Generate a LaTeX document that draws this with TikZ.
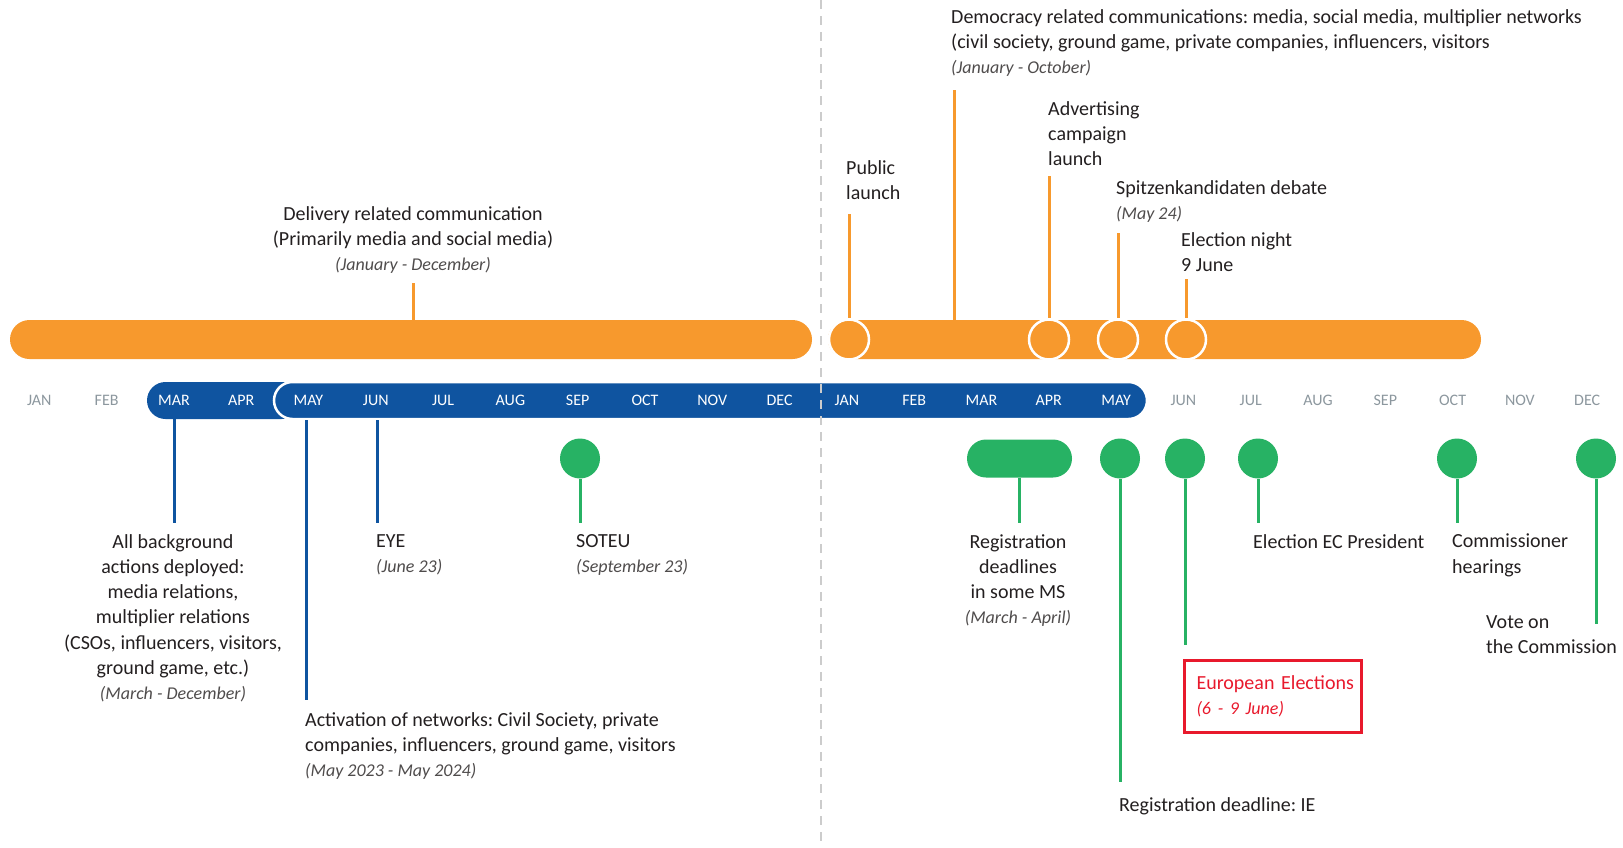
\documentclass[tikz,border=0pt]{standalone}
\usepackage{fontspec}
\setmainfont{Carlito}
\usetikzlibrary{positioning}
\frenchspacing

\definecolor{evorange}{HTML}{F7992D}
\definecolor{evblue}{HTML}{0F54A0}
\definecolor{evgreen}{HTML}{27B264}
\definecolor{evgray}{HTML}{8C979E}
\definecolor{evred}{HTML}{E8192C}
\definecolor{evtext}{HTML}{231F20}

\newcommand{\daterange}[1]{{\fontsize{18}{25.3}\selectfont\itshape\color{evtext!80} #1}}

\tikzset{
  txt/.style={inner sep=0pt, text=evtext, font=\fontsize{20}{25.3}\selectfont},
  mon/.style={inner sep=0pt, font=\fontsize{16}{16}\selectfont},
  obar/.style={fill=evorange, rounded corners=19.5pt, minimum height=39pt, inner sep=0pt},
  bbar/.style={fill=evblue, rounded corners=18.5pt, minimum height=37pt, inner sep=0pt},
  oline/.style={evorange, line width=3pt},
  bline/.style={evblue, line width=3pt},
  gline/.style={evgreen, line width=3pt},
  odot/.style={circle, fill=evorange, draw=white, line width=2.5pt, minimum size=40pt, inner sep=0pt},
  gdot/.style={circle, fill=evgreen, minimum size=40pt, inner sep=0pt},
}

\begin{document}
\begin{tikzpicture}[x=1pt,y=-1pt]
  \useasboundingbox (0,0) rectangle (1623,847);

  % orange bars
  \node[obar, minimum width=802pt] (obar1) at (411,339.5) {};
  \node[obar, minimum width=653pt] (obar2) at (1154.5,339.5) {};
  \node[odot] (pub) at (849,339.5) {};
  \node[odot] (adv) at (1049,339.5) {};
  \node[odot] (spk) at (1118,339.5) {};
  \node[odot] (eln) at (1186,339.5) {};

  % blue bars and months
  \node[bbar, minimum width=153pt] (bbar1) at (223.5,400.5) {};
  \node[bbar, minimum width=873pt, draw=white, line width=2.5pt] (bbar2) at (710.5,400.5) {};
  \foreach \m [count=\i from 0] in {JAN,FEB,MAR,APR,MAY,JUN,JUL,AUG,SEP,OCT,NOV,DEC,
                                    JAN,FEB,MAR,APR,MAY,JUN,JUL,AUG,SEP,OCT,NOV,DEC} {
    \ifnum\i<2 \def\mc{evgray}\else\ifnum\i>16 \def\mc{evgray}\else\def\mc{white}\fi\fi
    \node[mon, text=\mc] (m\i) at ({39.3+67.3*\i},400) {\m};
  }

  % year separator
  \draw[black!20, line width=2.5pt, dash pattern=on 9pt off 7pt] (821,0) -- (821,847);

  % upper labels
  \node[txt, align=center, anchor=north] (delivery) at (413,206)
    {Delivery related communication\\(Primarily media and social media)\\\daterange{(January - December)}};
  \node[txt, align=left, anchor=north west] (democracy) at (951,9)
    {Democracy related communications: media, social media, multiplier networks\\(civil society, ground game, private companies, influencers, visitors\\\daterange{(January - October)}};
  \node[txt, align=left, anchor=north west] (publab) at (846,160) {Public\\launch};
  \node[txt, align=left, anchor=north west] (advlab) at (1048,101) {Advertising\\campaign\\launch};
  \node[txt, align=left, anchor=north west] (spklab) at (1116,180) {Spitzenkandidaten debate\\\daterange{(May 24)}};
  \node[txt, align=left, anchor=north west] (elnlab) at (1181,232) {Election night\\9 June};

  \coordinate (deltop) at (413,283);
  \coordinate (demtop) at (954,90);
  \coordinate (pubtop) at (849,214);
  \coordinate (advtop) at (1049,176);
  \coordinate (spktop) at (1118,233);
  \coordinate (elntop) at (1186,279);
  \draw[oline] (deltop) -- (deltop |- obar1.north);
  \draw[oline] (demtop) -- (demtop |- obar2.north);
  \draw[oline] (pubtop) -- (pub.north);
  \draw[oline] (advtop) -- (adv.north);
  \draw[oline] (spktop) -- (spk.north);
  \draw[oline] (elntop) -- (eln.north);

  % blue markers
  \coordinate (marend) at (174,523);
  \coordinate (mayend) at (306,700);
  \coordinate (junend) at (377,523);
  \draw[bline] (marend |- bbar1.south) -- (marend);
  \draw[bline] (mayend |- bbar2.south) -- (mayend);
  \draw[bline] (junend |- bbar2.south) -- (junend);

  \node[txt, align=center, anchor=north] (bglab) at (173,534)
    {All background\\actions deployed:\\media relations,\\multiplier relations\\(CSOs, influencers, visitors,\\ground game, etc.)\\\daterange{(March - December)}};
  \node[txt, align=left, anchor=north west] (eyelab) at (376,534) {EYE\\\daterange{(June 23)}};
  \node[txt, align=left, anchor=north west] (actlab) at (305,712)
    {Activation of networks: Civil Society, private\\companies, influencers, ground game, visitors\\\daterange{(May 2023 - May 2024)}};

  % green markers
  \node[gdot] (soteu) at (580,458.5) {};
  \node[fill=evgreen, rounded corners=19pt, minimum width=105pt, minimum height=38pt, inner sep=0pt] (regms) at (1019.5,458.5) {};
  \node[gdot] (regie) at (1120,458.5) {};
  \node[gdot] (euel) at (1185,458.5) {};
  \node[gdot] (ecpres) at (1258,458.5) {};
  \node[gdot] (comm) at (1457,458.5) {};
  \node[gdot] (vote) at (1596,458.5) {};

  \coordinate (soteuend) at (580,523);
  \coordinate (regmsend) at (1019.5,523);
  \coordinate (regieend) at (1120,782);
  \coordinate (euelend) at (1185,645);
  \coordinate (ecpresend) at (1258,523);
  \coordinate (commend) at (1457,523);
  \coordinate (voteend) at (1596,624);
  \draw[gline] (soteu.south) -- (soteuend);
  \draw[gline] (regms.south) -- (regmsend);
  \draw[gline] (regie.south) -- (regieend);
  \draw[gline] (euel.south) -- (euelend);
  \draw[gline] (ecpres.south) -- (ecpresend);
  \draw[gline] (comm.south) -- (commend);
  \draw[gline] (vote.south) -- (voteend);

  \node[txt, align=left, anchor=north west] (soteulab) at (576,534) {SOTEU\\\daterange{(September 23)}};
  \node[txt, align=center, anchor=north] (regmslab) at (1018,534)
    {Registration\\deadlines\\in some MS\\\daterange{(March - April)}};
  \node[txt, align=left, anchor=north west] (regielab) at (1119,797) {Registration deadline: IE};
  \node[txt, align=left, anchor=north west] (ecpreslab) at (1253,534) {Election EC President};
  \node[txt, align=left, anchor=north west] (commlab) at (1452,534) {Commissioner\\hearings};
  \node[txt, align=left, anchor=north west] (votelab) at (1486,615) {Vote on\\the Commission};

  \node[txt, text=evred, draw=evred, line width=3pt, align=left, anchor=north west,
        minimum width=177pt, minimum height=72pt, text width=153pt, inner xsep=12pt] (euellab) at (1183,659)
    {\mbox{European Elections}\\{\fontsize{18}{25.3}\selectfont\itshape (6 - 9 June)}};
\end{tikzpicture}
\end{document}
